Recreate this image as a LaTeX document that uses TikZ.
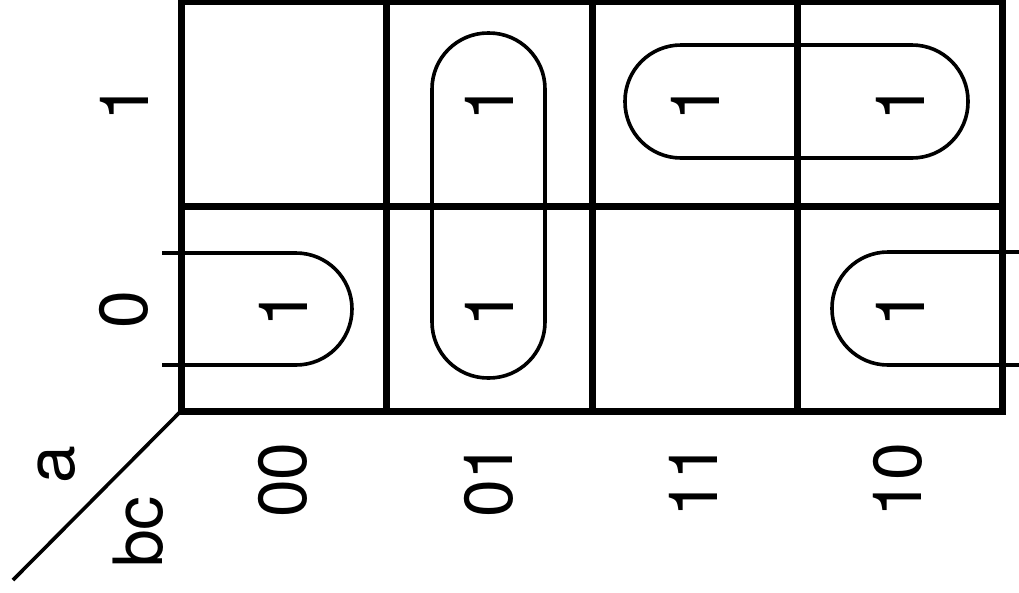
\documentclass[tikz,border=0pt]{standalone}
\usepackage{fontspec}
\setmainfont{TeX Gyre Heros}
\begin{document}
\begin{tikzpicture}[x=1pt,y=-1pt,
  grid/.style={line width=7pt},
  grp/.style={line width=3.6pt, rounded corners=56pt},
  lbl/.style={rotate=90, inner sep=0pt, font=\fontsize{68}{80}\selectfont},
  diag/.style={line width=3.6pt}]
\useasboundingbox (0,0) rectangle (1019,592);
% grid
\draw[grid] (181,1) rectangle (1002,411);
\draw[grid] (181,206) -- (1002,206);
\foreach \x in {386,592,797.5} \draw[grid] (\x,1) -- (\x,411);
% corner diagonal
\coordinate (corner) at (181,411);
\coordinate (tail) at (13,580);
\draw[diag] (corner) -- (tail);
% groups
\draw[grp] (432,33) rectangle (545,378);
\draw[grp] (625,45) rectangle (968,158);
\draw[grp] (162,253) -- (352,253) -- (352,365) -- (162,365);
\draw[grp] (1022,252) -- (832,252) -- (832,365) -- (1022,365);
% cell entries
\node[lbl] (c01a) at (489,103) {1};
\node[lbl] (c11a) at (695,103) {1};
\node[lbl] (c10a) at (900,103) {1};
\node[lbl] (c00b) at (283,309) {1};
\node[lbl] (c01b) at (489,309) {1};
\node[lbl] (c10b) at (900,309) {1};
% row labels
\node[lbl] (r1) at (124,103) {1};
\node[lbl] (r0) at (124,310) {0};
% column labels
\node[lbl] (k00) at (283,480) {00};
\node[lbl] (k01) at (489,480) {01};
\node[lbl] (k11) at (693,480) {11};
\node[lbl] (k10) at (898,480) {10};
% variable labels
\node[lbl] (va) at (57,465) {a};
\node[lbl] (vbc) at (138,532) {bc};
\end{tikzpicture}
\end{document}
